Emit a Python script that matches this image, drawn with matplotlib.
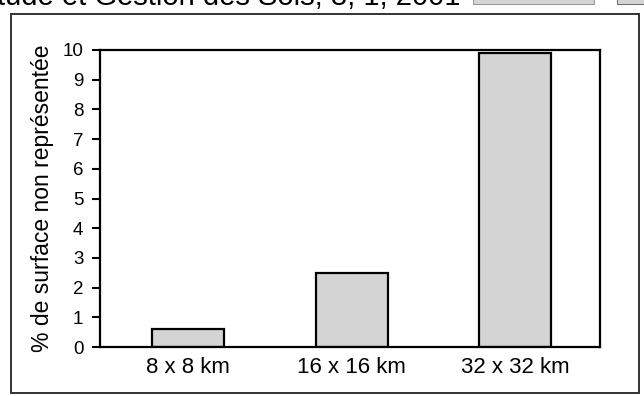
import matplotlib.pyplot as plt
from matplotlib.patches import Rectangle

plt.rcParams['font.family'] = ['Liberation Sans', 'DejaVu Sans']

# Surface non representee selon la maille
mailles = ['8 x 8 km', '16 x 16 km', '32 x 32 km']
pct_surface = [0.6, 2.5, 9.9]
yticks = list(range(0, 11))

fig = plt.figure(figsize=(6.44, 3.96), dpi=100)

# outer frame of the scanned figure
fig.patches.append(Rectangle((10.5 / 644, 3 / 396), 628.5 / 644, 379 / 396,
                             transform=fig.transFigure, fill=False,
                             edgecolor='#333333', linewidth=1.4))
# bits of the page cut off at the top
fig.patches.append(Rectangle((473 / 644, 392 / 396), 121 / 644, 10 / 396,
                             transform=fig.transFigure, facecolor='#d4d4d4',
                             edgecolor='#888888', linewidth=0.6))
fig.patches.append(Rectangle((617 / 644, 392 / 396), 30 / 644, 10 / 396,
                             transform=fig.transFigure, facecolor='#d4d4d4',
                             edgecolor='#555555', linewidth=0.6))
fig.text(-0.004, 0.987, 'tude et Gestion des Sols, 8, 1, 2001',
         fontsize=21, ha='left', va='baseline')

ax = fig.add_axes([100 / 644, 1 - 347 / 396, 500 / 644, 297 / 396])
ax.bar(range(len(mailles)), pct_surface, width=0.44, color='#d4d4d4',
       edgecolor='black', linewidth=1.6)

ax.set_xlim(-0.54, 2.52)
ax.set_ylim(0, 10)
ax.set_yticks(yticks)
ax.set_xticks(range(len(mailles)))
ax.set_xticklabels(mailles)
ax.tick_params(axis='y', length=5.5, width=1.5, labelsize=13.5, pad=6.5)
ax.tick_params(axis='x', length=0, labelsize=16, pad=7)
ax.set_ylabel('% de surface non représentée', fontsize=16.5, labelpad=6)
for s in ax.spines.values():
    s.set_linewidth(1.6)

fig.savefig('out.png', dpi=100)
